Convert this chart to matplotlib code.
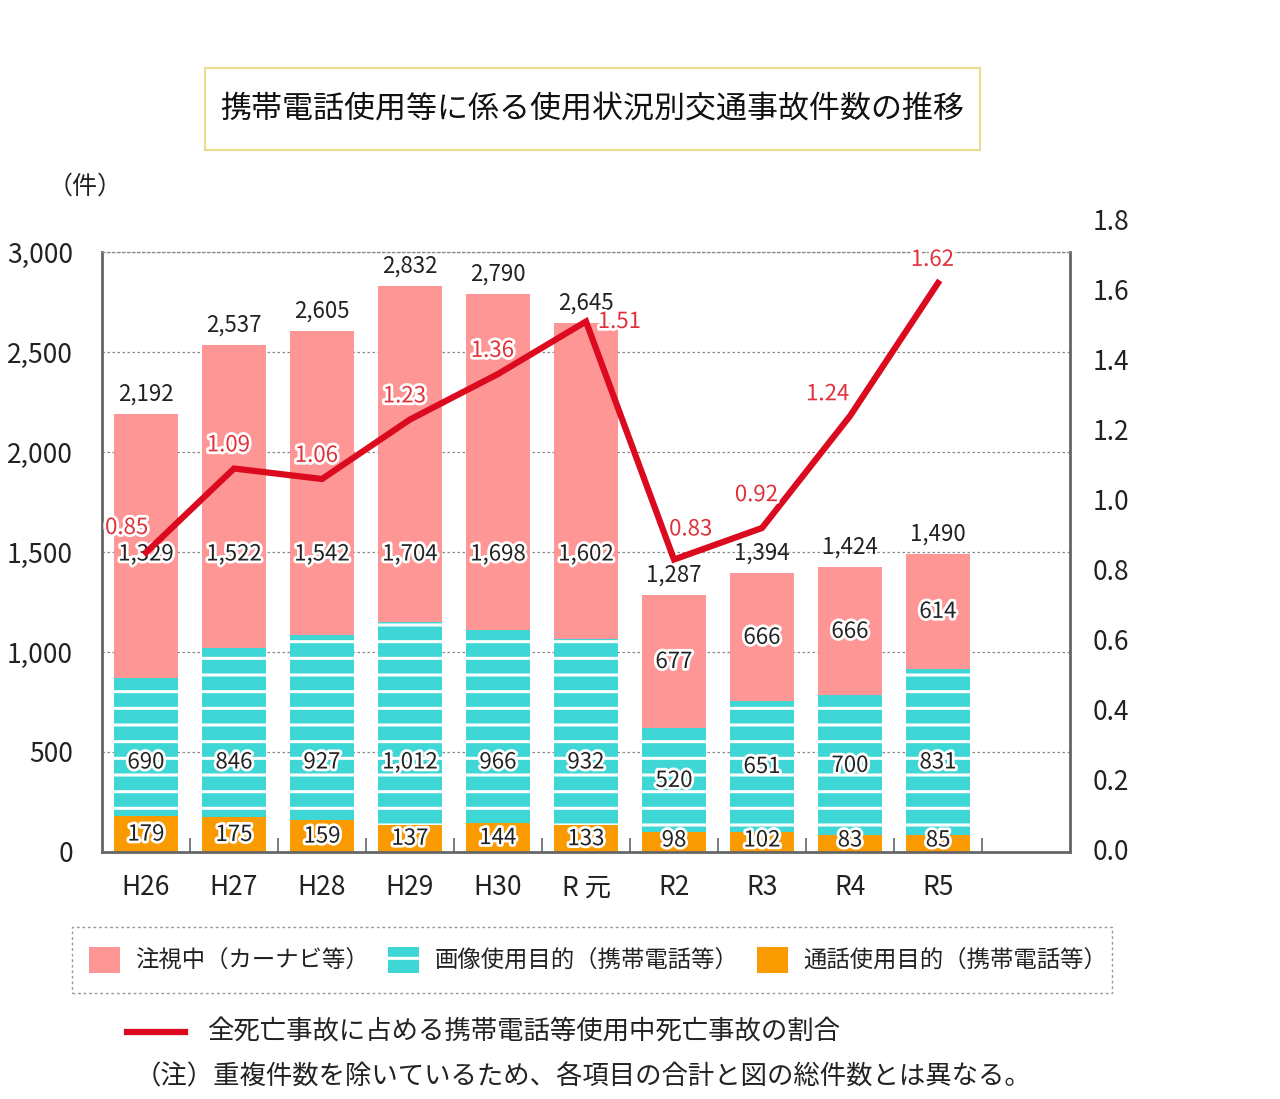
import numpy as np
import matplotlib
matplotlib.use("Agg")
import matplotlib.pyplot as plt
import matplotlib.patheffects as pe
from matplotlib.patches import Patch, Rectangle
from matplotlib.lines import Line2D

plt.rcParams["font.family"] = ["Noto Sans CJK JP", "DejaVu Sans"]
plt.rcParams["hatch.color"] = "white"
plt.rcParams["hatch.linewidth"] = 2.2

# データ
years = ["H26", "H27", "H28", "H29", "H30", "R 元", "R2", "R3", "R4", "R5"]
totals = [2192, 2537, 2605, 2832, 2790, 2645, 1287, 1394, 1424, 1490]
gaze = [1329, 1522, 1542, 1704, 1698, 1602, 677, 666, 666, 614]        # 注視中
image_use = [690, 846, 927, 1012, 966, 932, 520, 651, 700, 831]       # 画像使用目的
call_use = [179, 175, 159, 137, 144, 133, 98, 102, 83, 85]            # 通話使用目的
ratio = [0.85, 1.09, 1.06, 1.23, 1.36, 1.51, 0.83, 0.92, 1.24, 1.62]  # 死亡事故割合

PINK = "#FF9696"
CYAN = "#3FD6D6"
ORANGE = "#F99A00"
RED = "#DC0A1E"
RED_TXT = "#E0303A"
GRAY = "#666666"
TXT = "#222222"

W, H = 1280, 1099
fig = plt.figure(figsize=(W / 100, H / 100), dpi=100)

def fx(px):
    return px / W

def fy(py):
    return 1 - py / H

outline = [pe.withStroke(linewidth=4, foreground="white")]

# 棒グラフ
ax1 = fig.add_axes([fx(102), fy(852), fx(1070) - fx(102), fy(252) - fy(852)])
x = np.arange(len(years))
bw = 0.73
call = np.array(call_use)
img = np.array(image_use)
tot = np.array(totals)
top_part = tot - call - img

ax1.bar(x, call, bw, color=ORANGE, zorder=2)
ax1.bar(x, img, bw, bottom=call, color=CYAN, hatch="-", linewidth=0, zorder=2)
ax1.bar(x, top_part, bw, bottom=call + img, color=PINK, linewidth=0, zorder=2)

ax1.set_xlim(-0.5, 10.5)
ax1.set_ylim(0, 3000)
ax1.set_yticks(np.arange(0, 3001, 500))
ax1.set_yticklabels([f"{v:,}" for v in range(0, 3001, 500)])
ax1.set_xticks(x)
ax1.set_xticklabels(years)
ax1.set_xticks(np.arange(0.5, 10, 1), minor=True)
ax1.tick_params(axis="y", length=0, pad=21, labelsize=19, labelcolor=TXT)
ax1.tick_params(axis="x", which="major", length=0, pad=16, labelsize=19, labelcolor=TXT)
ax1.tick_params(axis="x", which="minor", direction="in", length=10, width=1.2, color=GRAY)
ax1.grid(axis="y", linestyle=(0, (2, 2)), color="#888888", linewidth=0.9)
ax1.set_axisbelow(True)
for s in ["left", "bottom", "right"]:
    ax1.spines[s].set_color(GRAY)
    ax1.spines[s].set_linewidth(2)
ax1.spines["top"].set_linestyle((0, (2, 2)))
ax1.spines["top"].set_color("#888888")
ax1.spines["top"].set_linewidth(0.9)

# 数値ラベル
for i in range(len(years)):
    ax1.annotate(f"{totals[i]:,}", (x[i], totals[i]), xytext=(0, 6),
                 textcoords="offset points", ha="center", va="bottom",
                 fontsize=16, color=TXT)
    pink_mid = call[i] + img[i] + top_part[i] / 2
    ax1.text(x[i], min(pink_mid, 1490), f"{gaze[i]:,}", ha="center", va="center",
             fontsize=16, color=TXT, path_effects=outline, zorder=4)
    cyan_mid = call[i] + img[i] / 2
    ax1.text(x[i], min(cyan_mid, 450), f"{image_use[i]:,}", ha="center", va="center",
             fontsize=16, color=TXT, path_effects=outline, zorder=4)
    ax1.text(x[i], max(call[i] / 2, 60), f"{call_use[i]:,}", ha="center", va="center",
             fontsize=16, color=TXT, path_effects=outline, zorder=4)

# 折れ線（右軸）
ax2 = fig.add_axes([fx(102), fy(850), fx(1070) - fx(102), fy(220) - fy(850)])
ax2.patch.set_alpha(0)
ax2.set_xlim(-0.5, 10.5)
ax2.set_ylim(0, 1.8)
ax2.plot(x, ratio, color=RED, linewidth=4.5, solid_joinstyle="miter", zorder=5)
ax2.set_xticks([])
ax2.yaxis.tick_right()
ax2.set_yticks(np.arange(0, 1.81, 0.2))
ax2.set_yticklabels([f"{v:.1f}" for v in np.arange(0, 1.81, 0.2)])
ax2.tick_params(axis="y", length=0, pad=16.5, labelsize=19, labelcolor=TXT)
for s in ax2.spines.values():
    s.set_visible(False)

offsets = {0: (-14, 18), 5: (24, 0), 6: (12, 22), 7: (-4, 24), 8: (-16, 16)}
for i, r in enumerate(ratio):
    dx, dy = offsets.get(i, (-4, 17))
    ax2.annotate(f"{r:.2f}", (x[i], r), xytext=(dx, dy), textcoords="offset points",
                 ha="center", va="center", fontsize=16, color=RED_TXT,
                 path_effects=outline, zorder=6)

# タイトル
fig.add_artist(Rectangle((fx(205), fy(150)), fx(980) - fx(205), fy(68) - fy(150),
                         transform=fig.transFigure, facecolor="white",
                         edgecolor="#E9DC8C", linewidth=1.5))
fig.text(fx(592), fy(109), "携帯電話使用等に係る使用状況別交通事故件数の推移",
         ha="center", va="center", fontsize=22.3, color="#111111")
fig.text(fx(85), fy(187), "（件）", ha="center", va="center", fontsize=18, color=TXT)

# 凡例
fig.add_artist(Rectangle((fx(72), fy(993)), fx(1112) - fx(72), fy(927) - fy(993),
                         transform=fig.transFigure, facecolor="none",
                         edgecolor="#999999", linewidth=1.0, linestyle=(0, (2, 2))))
handles = [
    Patch(facecolor=PINK, linewidth=0, label="注視中（カーナビ等）"),
    Patch(facecolor=CYAN, hatch="-", linewidth=0, label="画像使用目的（携帯電話等）"),
    Patch(facecolor=ORANGE, linewidth=0, label="通話使用目的（携帯電話等）"),
]
fig.legend(handles=handles, loc="center", bbox_to_anchor=(fx(598), fy(960)), ncol=3,
           frameon=False, fontsize=16.8, handlelength=1.35, handleheight=1.35,
           handletextpad=0.65, columnspacing=0.8, labelcolor=TXT)

fig.add_artist(Line2D([fx(127), fx(185)], [fy(1032), fy(1032)], transform=fig.transFigure,
                      color=RED, linewidth=4.5))
fig.text(fx(207), fy(1032), "全死亡事故に占める携帯電話等使用中死亡事故の割合",
         ha="left", va="center", fontsize=19, color=TXT)
fig.text(fx(135), fy(1077), "（注）重複件数を除いているため、各項目の合計と図の総件数とは異なる。",
         ha="left", va="center", fontsize=19, color=TXT)

fig.savefig("out.png", dpi=100, facecolor="white")
